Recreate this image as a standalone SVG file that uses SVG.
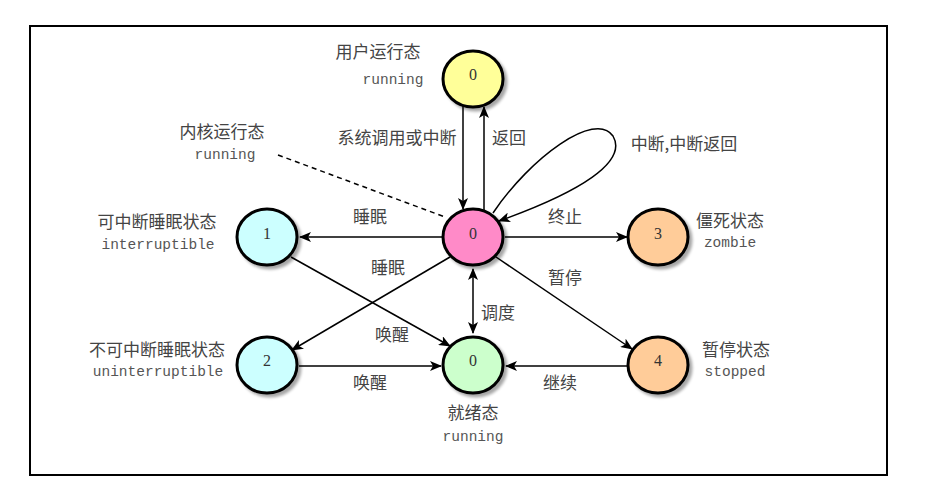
<svg xmlns="http://www.w3.org/2000/svg" width="945" height="489" viewBox="0 0 945 489">
<defs>
<filter id="sh" x="-30%" y="-30%" width="160%" height="160%">
<feGaussianBlur in="SourceAlpha" stdDeviation="1.5"/>
<feOffset dx="3" dy="3" result="b"/>
<feComponentTransfer><feFuncA type="linear" slope="0.35"/></feComponentTransfer>
<feMerge><feMergeNode/><feMergeNode in="SourceGraphic"/></feMerge>
</filter>
<marker id="ar" viewBox="0 0 12 10" markerWidth="12" markerHeight="10" refX="11" refY="5" orient="auto" markerUnits="userSpaceOnUse">
<path d="M0,0 L12,5 L0,10 L3,5 Z" fill="#000"/>
</marker>
<marker id="as" viewBox="0 0 12 10" markerWidth="12" markerHeight="10" refX="1" refY="5" orient="auto" markerUnits="userSpaceOnUse">
<path d="M12,0 L0,5 L12,10 L9,5 Z" fill="#000"/>
</marker>
</defs>
<style>
.node ellipse{stroke:#000;stroke-width:3;filter:url(#sh)}
.num{font-family:"Liberation Serif",serif;font-size:16px;fill:#333;text-anchor:middle}
.cn{font-family:"Noto Sans CJK SC",sans-serif;font-size:17px;fill:#444;text-anchor:middle}
.en{font-family:"Liberation Mono",monospace;font-size:14.5px;fill:#555;text-anchor:middle}
.edge{stroke:#000;stroke-width:1.5;fill:none}
</style>
<rect x="30" y="26" width="857" height="449" fill="#fff" stroke="#000" stroke-width="2"/>
<g id="connectors">
<path class="edge" d="M463,106 L463,209" marker-end="url(#ar)"/>
<path class="edge" d="M484,210 L484,107" marker-end="url(#ar)"/>
<path class="edge" d="M493,213 C530,158 595,110 613,136 C628,162 580,192 499,221" marker-end="url(#ar)"/>
<path class="edge" d="M278,155 L445,217" stroke-dasharray="5,4"/>
<path class="edge" d="M442,237 L300,237" marker-end="url(#ar)"/>
<path class="edge" d="M505,237 L627,237" marker-end="url(#ar)"/>
<path class="edge" d="M450,257 L292,350" marker-end="url(#ar)"/>
<path class="edge" d="M496,257 L632,349" marker-end="url(#ar)"/>
<path class="edge" d="M291,257 L450,346" marker-end="url(#ar)"/>
<path class="edge" d="M299,366 L441,366" marker-end="url(#ar)"/>
<path class="edge" d="M627,366 L506,366" marker-end="url(#ar)"/>
<path class="edge" d="M473,269 L473,333" marker-start="url(#as)" marker-end="url(#ar)"/>
<text class="cn" x="397" y="144">系统调用或中断</text>
<text class="cn" x="509" y="144">返回</text>
<text class="cn" x="684" y="150">中断,中断返回</text>
<text class="cn" x="370" y="223">睡眠</text>
<text class="cn" x="565" y="223">终止</text>
<text class="cn" x="388" y="274">睡眠</text>
<text class="cn" x="565" y="284">暂停</text>
<text class="cn" x="498" y="319">调度</text>
<text class="cn" x="392" y="341">唤醒</text>
<text class="cn" x="370" y="389">唤醒</text>
<text class="cn" x="560" y="389">继续</text>
</g>
<g id="n-user">
<g class="node"><ellipse cx="473" cy="79" rx="30" ry="28" fill="#FFFF99"/></g>
<text class="num" x="473" y="80">0</text>
<text class="cn" x="378" y="58">用户运行态</text>
<text class="en" x="393" y="84">running</text>
</g>
<g id="n-kernel">
<g class="node"><ellipse cx="473" cy="237" rx="30" ry="28" fill="#FF8AC8"/></g>
<text class="num" x="473" y="239">0</text>
<text class="cn" x="222" y="138">内核运行态</text>
<text class="en" x="225" y="159">running</text>
</g>
<g id="n-interruptible">
<g class="node"><ellipse cx="267" cy="237" rx="30" ry="28" fill="#CCFFFF"/></g>
<text class="num" x="267" y="239">1</text>
<text class="cn" x="157" y="228">可中断睡眠状态</text>
<text class="en" x="158" y="249">interruptible</text>
</g>
<g id="n-uninterruptible">
<g class="node"><ellipse cx="267" cy="365" rx="30" ry="28" fill="#CCFFFF"/></g>
<text class="num" x="267" y="366">2</text>
<text class="cn" x="157" y="356">不可中断睡眠状态</text>
<text class="en" x="158" y="376">uninterruptible</text>
</g>
<g id="n-ready">
<g class="node"><ellipse cx="473" cy="365" rx="30" ry="28" fill="#CCFFCC"/></g>
<text class="num" x="473" y="366">0</text>
<text class="cn" x="473" y="419">就绪态</text>
<text class="en" x="473" y="441">running</text>
</g>
<g id="n-zombie">
<g class="node"><ellipse cx="658" cy="237" rx="30" ry="28" fill="#FFCC99"/></g>
<text class="num" x="658" y="239">3</text>
<text class="cn" x="730" y="227">僵死状态</text>
<text class="en" x="730" y="247">zombie</text>
</g>
<g id="n-stopped">
<g class="node"><ellipse cx="658" cy="365" rx="30" ry="28" fill="#FFCC99"/></g>
<text class="num" x="658" y="366">4</text>
<text class="cn" x="736" y="356">暂停状态</text>
<text class="en" x="735" y="376">stopped</text>
</g>
</svg>
